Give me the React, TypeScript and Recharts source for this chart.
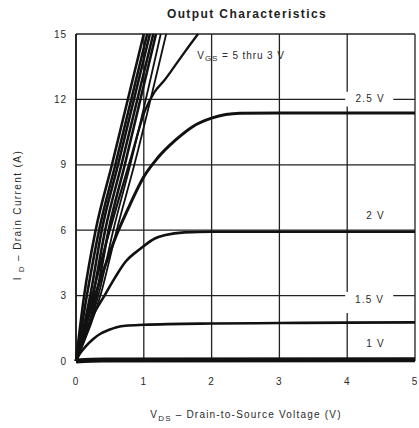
import React from 'react';
import {
  LineChart, Line, XAxis, YAxis, CartesianGrid,
  ReferenceArea, ReferenceDot
} from 'recharts';

type Pt = [number, number];

// V_DS (V) vs I_D (A)
const vdsTicks = [0, 1, 2, 3, 4, 5];
const idTicks = [0, 3, 6, 9, 12, 15];

const vgs1V: Pt[] = [[0, 0], [0.4, 0.05], [5, 0.06]];
const vgs15V: Pt[] = [[0, 0], [0.05, 0.3], [0.14, 0.66], [0.25, 1.0], [0.36, 1.25], [0.48, 1.42], [0.6, 1.55], [0.73, 1.62], [1, 1.66], [2, 1.72], [3, 1.74], [4, 1.76], [5, 1.77]];
const vgs2V: Pt[] = [[0, 0], [0.1, 0.95], [0.24, 2.03], [0.42, 3.0], [0.58, 3.85], [0.73, 4.55], [0.95, 5.15], [1.17, 5.63], [1.32, 5.78], [1.6, 5.9], [2, 5.93], [3, 5.93], [4, 5.93], [5, 5.93]];
const vgs25V: Pt[] = [[0, 0], [0.2, 2.2], [0.4, 4.1], [0.6, 5.8], [0.8, 7.2], [1.0, 8.45], [1.2, 9.3], [1.47, 10.14], [1.72, 10.75], [2.01, 11.15], [2.42, 11.36], [3, 11.38], [4, 11.38], [5, 11.38]];
const vgs3V: Pt[] = [[0, 0], [0.2, 2.5], [0.4, 4.9], [0.6, 7.1], [0.8, 9.2], [1.02, 11.5], [1.15, 12.3], [1.31, 12.9], [1.45, 13.5], [1.6, 14.16], [1.8, 15]];
const vgs35V: Pt[] = [[0, 0], [0.36, 3], [0.6, 6], [0.86, 9], [1.33, 15]];
const vgs4V: Pt[] = [[0, 0], [0.33, 3], [0.55, 6], [0.8, 9], [1.25, 15]];
const vgs45V: Pt[] = [[0, 0], [0.3, 3], [0.48, 6], [0.72, 9], [1.18, 15]];
const vgs5V: Pt[] = [[0, 0], [0.25, 3], [0.43, 6], [0.67, 9], [1.14, 15]];
const vgs6V: Pt[] = [[0, 0], [0.21, 3], [0.38, 6], [0.62, 9], [1.09, 15]];
const vgs8V: Pt[] = [[0, 0], [0.16, 3], [0.34, 6], [0.58, 9], [1.05, 15]];
const vgs10V: Pt[] = [[0, 0], [0.12, 3], [0.29, 6], [0.53, 9], [1.0, 15]];

const toRows = (pts: Pt[]) => pts.map(([v, i]) => ({ v, i }));

const FONT = '"Liberation Sans", Arial, sans-serif';
const INK = '#111';
const TXT = '#2a2a2a';

const curves = [
  { id: '1', pts: vgs1V, w: 5 },
  { id: '1.5', pts: vgs15V, w: 2.6 },
  { id: '2', pts: vgs2V, w: 2.6 },
  { id: '2.5', pts: vgs25V, w: 3 },
  { id: '3', pts: vgs3V, w: 2.3 },
  { id: '3.5', pts: vgs35V, w: 1.8 },
  { id: '4', pts: vgs4V, w: 1.8 },
  { id: '4.5', pts: vgs45V, w: 2.6 },
  { id: '5', pts: vgs5V, w: 2.6 },
  { id: '6', pts: vgs6V, w: 2.6 },
  { id: '8', pts: vgs8V, w: 2.6 },
  { id: '10', pts: vgs10V, w: 2.6 },
];

const tag = (text: string) => (props: any) => {
  const { x, y } = props.viewBox;
  return (
    <text x={x} y={y} textAnchor="middle" dominantBaseline="central"
      fontFamily={FONT} fontSize={10} letterSpacing={1.2} fill={TXT}>{text}</text>
  );
};

const vgsTag = (props: any) => {
  const { x, y } = props.viewBox;
  return (
    <text x={x} y={y} dominantBaseline="central" fontFamily={FONT} fontSize={10} letterSpacing={0.9} fill={TXT}>
      <tspan>V</tspan>
      <tspan fontSize={8} dy={3}>GS</tspan>
      <tspan dy={-3}> = 5 thru 3 V</tspan>
    </text>
  );
};

const tickStyle = { fontFamily: FONT, fontSize: 10, fill: TXT, letterSpacing: 1 };

export default function App() {
  return (
    <div style={{ position: 'absolute', left: 0, top: 0, width: 419, height: 428, background: '#fff' }}>
      <LineChart width={419} height={428} margin={{ top: 34, right: 4, bottom: 37, left: 46 }}>
        <CartesianGrid stroke="#222" strokeWidth={1.3} />
        <XAxis dataKey="v" type="number" domain={[0, 5]} ticks={vdsTicks} allowDecimals={false}
          tickLine={false} tickSize={6} tickMargin={11} height={30}
          axisLine={{ stroke: INK, strokeWidth: 1.5 }} tick={tickStyle} />
        <YAxis dataKey="i" type="number" domain={[0, 15]} ticks={idTicks} width={30}
          tickLine={false} tickSize={6} tickMargin={3}
          axisLine={{ stroke: INK, strokeWidth: 1.5 }} tick={tickStyle} />
        <ReferenceArea x1={3.97} x2={4.68} y1={11.67} y2={12.35} fill="#fff" fillOpacity={1} stroke="none" />
        <ReferenceArea x1={3.97} x2={4.68} y1={2.2} y2={3.17} fill="#fff" fillOpacity={1} stroke="none" />
        {curves.map(c => (
          <Line key={c.id} data={toRows(c.pts)} dataKey="i" type="monotone" stroke={INK}
            strokeWidth={c.w} dot={false} activeDot={false} isAnimationActive={false} />
        ))}
        <ReferenceDot x={4.34} y={12.03} r={0} stroke="none" label={{ content: tag('2.5 V') }} />
        <ReferenceDot x={4.42} y={6.67} r={0} stroke="none" label={{ content: tag('2 V') }} />
        <ReferenceDot x={4.33} y={2.8} r={0} stroke="none" label={{ content: tag('1.5 V') }} />
        <ReferenceDot x={4.42} y={0.78} r={0} stroke="none" label={{ content: tag('1 V') }} />
        <ReferenceDot x={1.79} y={14.04} r={0} stroke="none" label={{ content: vgsTag }} />
      </LineChart>
      <svg width={419} height={428} style={{ position: 'absolute', left: 0, top: 0, pointerEvents: 'none' }}>
        <text x={247} y={17.5} textAnchor="middle" fontFamily={FONT} fontSize={12} fontWeight="bold"
          letterSpacing={1.4} fill="#222">Output Characteristics</text>
        <text x={246} y={418} textAnchor="middle" fontFamily={FONT} fontSize={10} letterSpacing={1.2} fill={TXT}>
          <tspan>V</tspan>
          <tspan fontSize={8} dy={3}>DS</tspan>
          <tspan dy={-3}>  –  Drain-to-Source Voltage (V)</tspan>
        </text>
        <text x={0} y={0} transform="translate(21,215) rotate(-90)" textAnchor="middle" fontFamily={FONT}
          fontSize={10} letterSpacing={1.4} fill={TXT}>
          <tspan>I</tspan>
          <tspan fontSize={8} dy={3}> D</tspan>
          <tspan dy={-3}>  –  Drain Current (A)</tspan>
        </text>
      </svg>
    </div>
  );
}
